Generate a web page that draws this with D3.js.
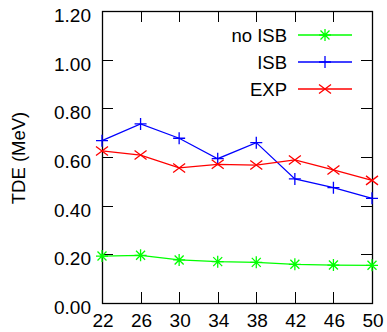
<!DOCTYPE html>
<html>
<head>
<meta charset="utf-8">
<script src="https://cdn.jsdelivr.net/npm/d3@7"></script>
<style>
  body { margin: 0; background: #fff; }
  text { font-family: "Liberation Sans", Arial, sans-serif; fill: #000; }
</style>
</head>
<body>
<div id="chart"></div>
<script>
// values
var xs = [22, 26, 30, 34, 38, 42, 46, 50];
var noIsb = [0.193, 0.196, 0.177, 0.170, 0.167, 0.159, 0.156, 0.155];
var isb = [0.667, 0.736, 0.677, 0.593, 0.659, 0.510, 0.474, 0.430];
var exp = [0.625, 0.608, 0.555, 0.570, 0.567, 0.588, 0.547, 0.504];
var yTicks = [0, 0.2, 0.4, 0.6, 0.8, 1.0, 1.2];

var series = [
  { name: "no ISB", values: noIsb, color: "#00ff00", marker: "star" },
  { name: "ISB", values: isb, color: "#0000ff", marker: "plus" },
  { name: "EXP", values: exp, color: "#ff0000", marker: "cross" }
];

var width = 387, height = 332;
var plotL = 102, plotR = 372, plotT = 11, plotB = 303;

var svg = d3.select("#chart").append("svg")
    .attr("width", width)
    .attr("height", height);

var x = d3.scaleLinear().domain([22, 50]).range([plotL, plotR]);
var y = d3.scaleLinear().domain([0, 1.2]).range([plotB, plotT]);

var tickLen = 11;

// ticks, mirrored on both sides
var g = svg.append("g").attr("stroke", "#000").attr("stroke-width", 1);
yTicks.forEach(function (t) {
  if (t == 0 || t == 1.2) return;
  var yy = Math.round(y(t)) + 0.5;
  g.append("line").attr("x1", plotL).attr("x2", plotL + tickLen).attr("y1", yy).attr("y2", yy);
  g.append("line").attr("x1", plotR - tickLen).attr("x2", plotR).attr("y1", yy).attr("y2", yy);
});
xs.forEach(function (t) {
  if (t == 22 || t == 50) return;
  var xx = Math.round(x(t)) + 0.5;
  g.append("line").attr("y1", plotB).attr("y2", plotB - tickLen).attr("x1", xx).attr("x2", xx);
  g.append("line").attr("y1", plotT).attr("y2", plotT + tickLen).attr("x1", xx).attr("x2", xx);
});

// frame
svg.append("rect")
  .attr("x", plotL + 0.5).attr("y", plotT + 0.5)
  .attr("width", plotR - plotL).attr("height", plotB - plotT)
  .attr("fill", "none").attr("stroke", "#000").attr("stroke-width", 1.3);

// tick labels
svg.append("g").selectAll("text")
  .data(yTicks).enter().append("text")
  .attr("x", 91).attr("y", function (d) { return y(d) + 11; })
  .attr("text-anchor", "end")
  .style("font-size", "19px")
  .text(function (d) { return d3.format(".2f")(d); });

svg.append("g").selectAll("text")
  .data(xs).enter().append("text")
  .attr("x", function (d) { return x(d) + 1; })
  .attr("y", plotB + 24)
  .attr("text-anchor", "middle")
  .style("font-size", "19px")
  .text(function (d) { return d; });

svg.append("text")
  .attr("transform", "translate(25,158) rotate(-90)")
  .attr("text-anchor", "middle")
  .style("font-size", "18.5px")
  .text("TDE (MeV)");

function drawMarker(sel, type, color) {
  var s = 6, d = 4.5;
  var paths = {
    plus: "M" + (-s) + ",0H" + s + "M0," + (-s) + "V" + s,
    cross: "M" + (-s) + "," + (-d) + "L" + s + "," + d + "M" + (-s) + "," + d + "L" + s + "," + (-d),
    star: "M" + (-s) + ",0H" + s + "M0," + (-s) + "V" + s +
          "M" + (-d) + "," + (-d) + "L" + d + "," + d + "M" + (-d) + "," + d + "L" + d + "," + (-d)
  };
  sel.append("path")
    .attr("d", paths[type])
    .attr("fill", "none")
    .attr("stroke", color)
    .attr("stroke-width", 1.3);
}

var line = d3.line()
  .x(function (d, i) { return x(xs[i]); })
  .y(function (d) { return y(d); });

series.forEach(function (s) {
  svg.append("path")
    .attr("d", line(s.values))
    .attr("fill", "none")
    .attr("stroke", s.color)
    .attr("stroke-width", 1.3);
  s.values.forEach(function (v, i) {
    var m = svg.append("g").attr("transform", "translate(" + x(xs[i]) + "," + y(v) + ")");
    drawMarker(m, s.marker, s.color);
  });
});

// legend
var legendY = [35, 62, 89];
series.forEach(function (s, i) {
  var ly = legendY[i];
  svg.append("text")
    .attr("x", 287).attr("y", ly + 7)
    .attr("text-anchor", "end")
    .style("font-size", "18.5px")
    .text(s.name);
  svg.append("line")
    .attr("x1", 298).attr("x2", 352)
    .attr("y1", ly).attr("y2", ly)
    .attr("stroke", s.color).attr("stroke-width", 1.3);
  var m = svg.append("g").attr("transform", "translate(325," + ly + ")");
  drawMarker(m, s.marker, s.color);
});
</script>
</body>
</html>
